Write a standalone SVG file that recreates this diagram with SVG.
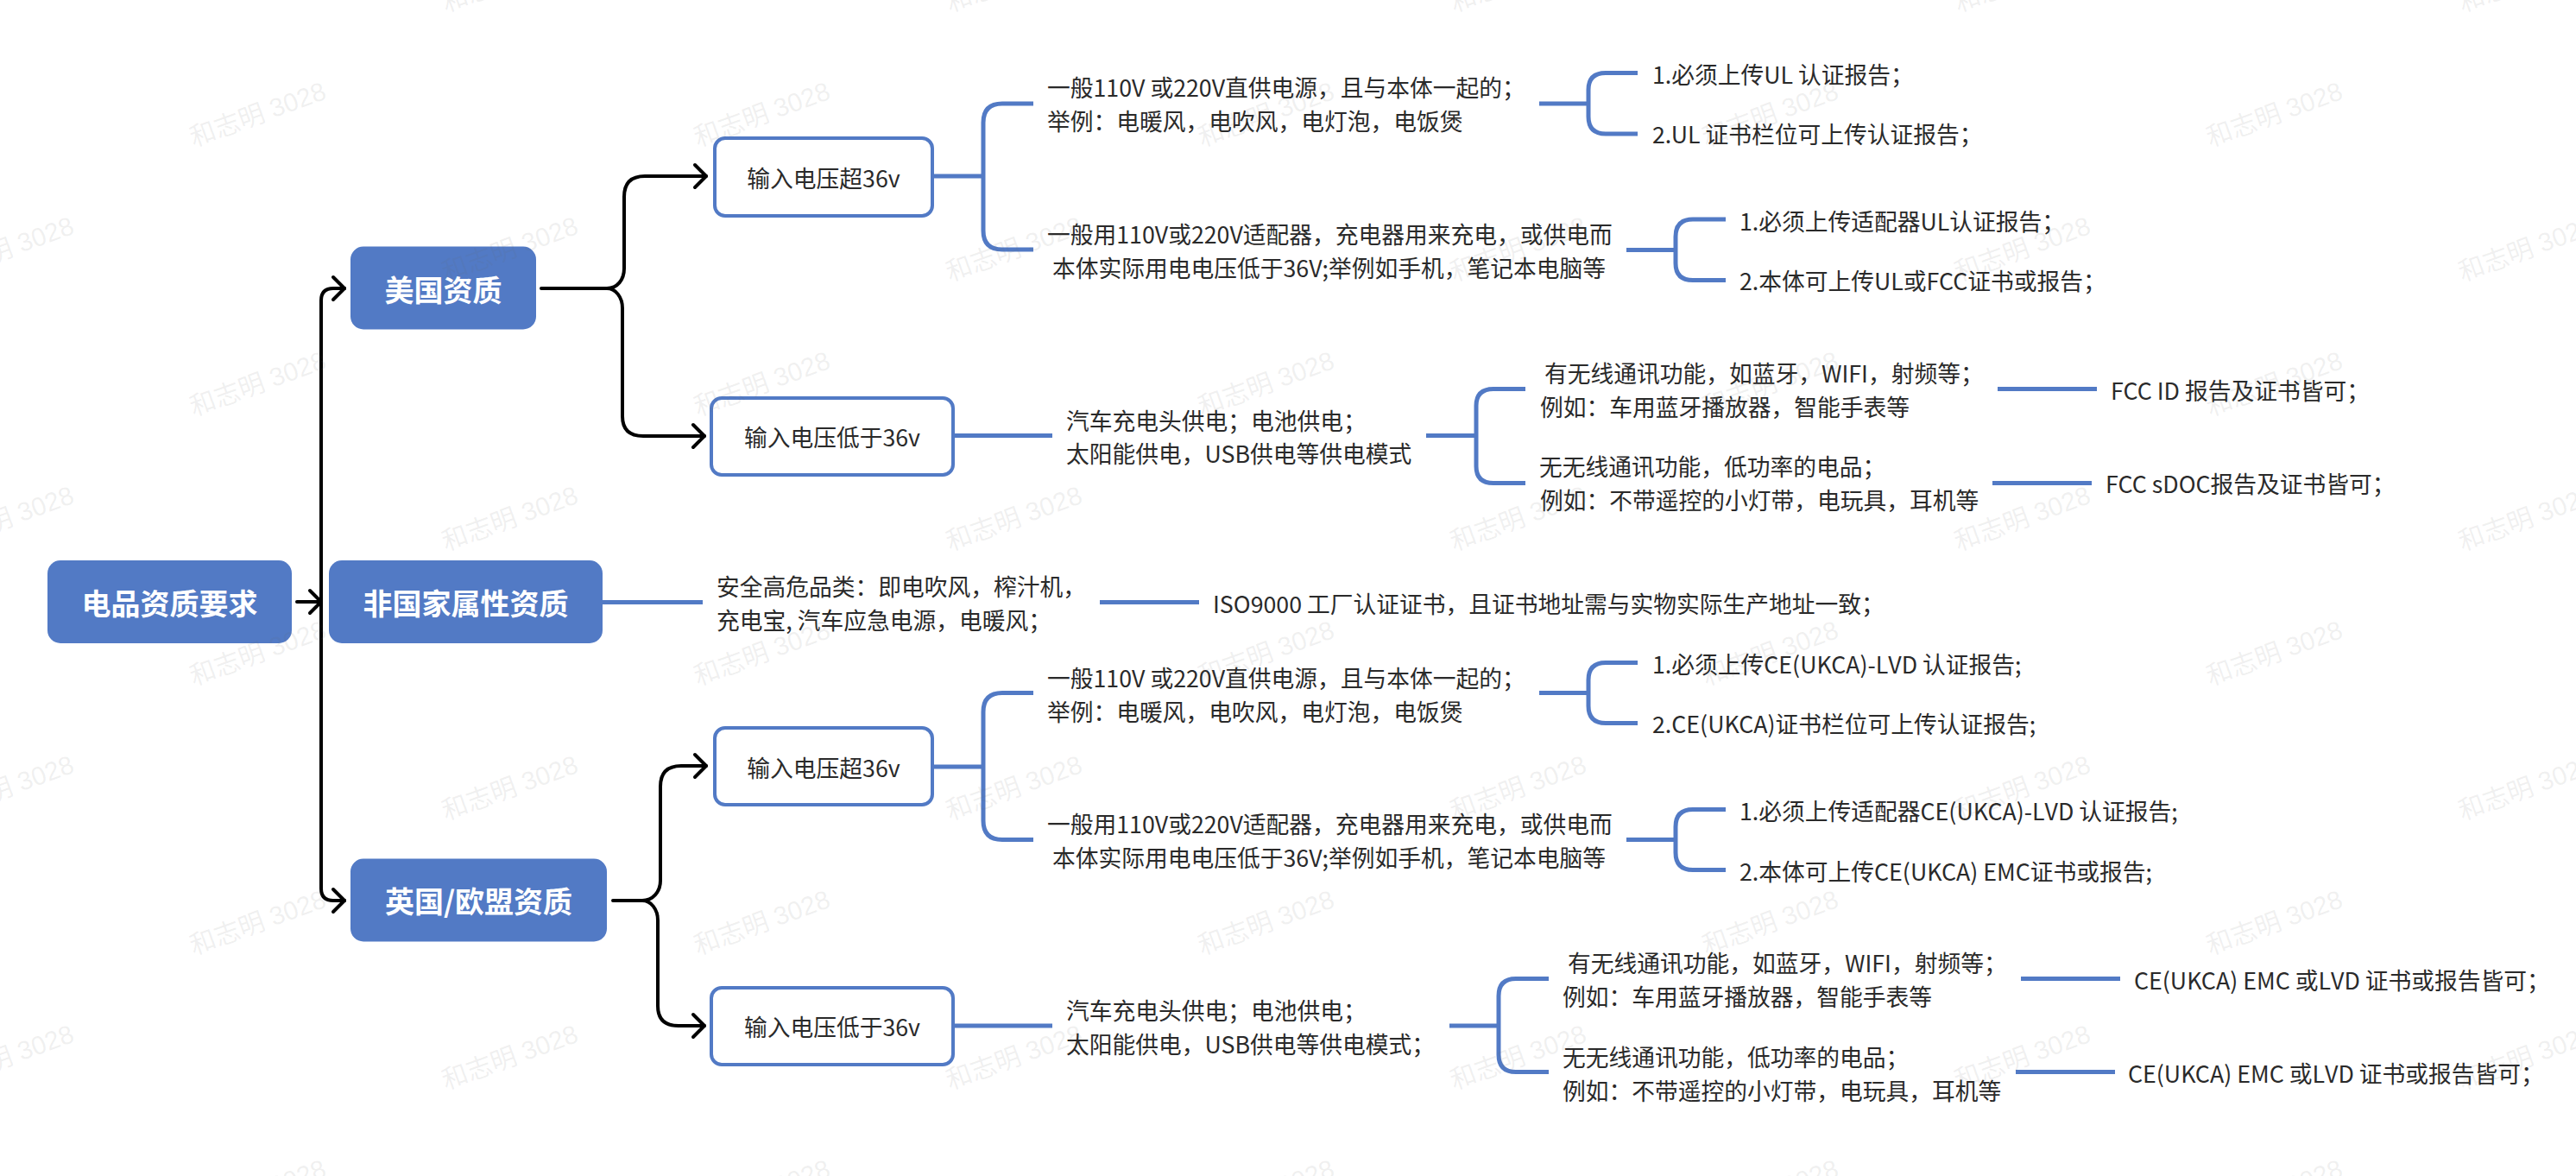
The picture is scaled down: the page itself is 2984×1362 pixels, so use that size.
<svg xmlns="http://www.w3.org/2000/svg" width="2984" height="1362" viewBox="0 0 2984 1362">
<style>
text{font-family:"Noto Sans CJK SC","Noto Sans",sans-serif}
.t{font-size:26.75px;fill:#2a2a2a}
.c{text-anchor:middle}
.h{font-size:34px;font-weight:700;fill:#fff;text-anchor:middle}
.f{fill:#527ac5}
.b{fill:#fff;stroke:#527ac5;stroke-width:4}
.k{fill:none;stroke:#000;stroke-width:4;stroke-linecap:round;stroke-linejoin:round}
.l{fill:none;stroke:#527ac5;stroke-width:5}
.w{font-family:"Liberation Sans","Noto Sans CJK SC",sans-serif;font-size:30px;fill:#666;fill-opacity:.1}
</style>
<defs>
<marker id="a" markerUnits="userSpaceOnUse" markerWidth="32" markerHeight="32" refX="16" refY="16" orient="auto" overflow="visible"><path d="M3 3L16 16L3 29" fill="none" stroke="#000" stroke-width="4" stroke-linecap="round" stroke-linejoin="round"/></marker>
</defs>
<rect width="2984" height="1362" fill="#fff"/>

<g id="connectors">
<path class="k" d="M344 697H372" marker-end="url(#a)"/>
<path class="k" d="M399 334H386Q372 334 372 348V1029Q372 1043 386 1043H399" fill="none"/>
<path class="k" d="M392 334H399" marker-end="url(#a)"/>
<path class="k" d="M392 1043H399" marker-end="url(#a)"/>
<path class="k" d="M627 334H703C715 334 723 324 723 311V228Q723 204 747 204H818" marker-end="url(#a)"/>
<path class="k" d="M703 334C713 334 721 344 721 357V482Q721 505 745 505H816" marker-end="url(#a)"/>
<path class="k" d="M710 1043H744C756 1043 765 1033 765 1020V911Q765 887 789 887H818" marker-end="url(#a)"/>
<path class="k" d="M744 1043C754 1043 762 1053 762 1066V1165Q762 1188 786 1188H816" marker-end="url(#a)"/>
<path class="l" d="M698 697.500H814"/>
<path class="l" d="M1274 697.500H1389"/>
<path class="l" d="M1080 204H1139"/>
<path class="l" d="M1197 120H1161Q1139 120 1139 142V267Q1139 289 1161 289H1197"/>
<path class="l" d="M1783 120H1840"/>
<path class="l" d="M1897 84.500H1860Q1840 84.500 1840 104V135Q1840 155 1860 155H1897"/>
<path class="l" d="M1884 289.500H1941"/>
<path class="l" d="M1999 254H1961Q1941 254 1941 274V305Q1941 324.500 1961 324.500H1999"/>
<path class="l" d="M1104 504.500H1219"/>
<path class="l" d="M1652 504.500H1710"/>
<path class="l" d="M1767 450.500H1730Q1710 450.500 1710 470V540Q1710 559.500 1730 559.500H1767"/>
<path class="l" d="M2314 450.500H2429"/>
<path class="l" d="M2308 559.500H2423"/>
<path class="l" d="M1080 888H1139"/>
<path class="l" d="M1197 802.500H1161Q1139 802.500 1139 824.500V950.500Q1139 972.500 1161 972.500H1197"/>
<path class="l" d="M1783 802.500H1840"/>
<path class="l" d="M1897 767.500H1860Q1840 767.500 1840 787.500V817.500Q1840 837.500 1860 837.500H1897"/>
<path class="l" d="M1884 972.500H1941"/>
<path class="l" d="M1999 937.500H1961Q1941 937.500 1941 957.500V987.500Q1941 1007.500 1961 1007.500H1999"/>
<path class="l" d="M1104 1188H1219"/>
<path class="l" d="M1679 1188H1736"/>
<path class="l" d="M1794 1133.500H1756Q1736 1133.500 1736 1153.500V1221.500Q1736 1241.500 1756 1241.500H1794"/>
<path class="l" d="M2341 1133.500H2456"/>
<path class="l" d="M2335 1241.500H2450"/>
</g>

<g id="root"><rect class="f" x="55" y="649" width="283" height="96" rx="15"/><text class="h" x="196.500" y="712">电品资质要求</text></g>
<g id="us"><rect class="f" x="406" y="285.500" width="215" height="96" rx="15"/><text class="h" x="513.500" y="349">美国资质</text></g>
<g id="nonnational"><rect class="f" x="381" y="649" width="317" height="96" rx="15"/><text class="h" x="539.500" y="712">非国家属性资质</text></g>
<g id="uk"><rect class="f" x="406" y="994.500" width="297" height="96" rx="15"/><text class="h" x="554.500" y="1057">英国/欧盟资质</text></g>

<g id="us-over"><rect class="b" x="828" y="160" width="252" height="90" rx="12"/><text class="t c" x="954" y="217">输入电压超36v</text></g>
<g id="us-low"><rect class="b" x="824" y="461" width="280" height="89" rx="12"/><text class="t c" x="964" y="517">输入电压低于36v</text></g>
<g id="uk-over"><rect class="b" x="828" y="843" width="252" height="89" rx="12"/><text class="t c" x="954" y="900">输入电压超36v</text></g>
<g id="uk-low"><rect class="b" x="824" y="1144" width="280" height="89" rx="12"/><text class="t c" x="964" y="1200">输入电压低于36v</text></g>

<g id="n1"><text class="t" x="1213" y="112">一般110V 或220V直供电源，且与本体一起的；</text><text class="t" x="1213" y="151">举例：电暖风，电吹风，电灯泡，电饭煲</text></g>
<g id="n2"><text class="t" x="1213" y="282">一般用110V或220V适配器，充电器用来充电，或供电而</text><text class="t" x="1219" y="321">本体实际用电电压低于36V;举例如手机，笔记本电脑等</text></g>
<g id="n3"><text class="t" x="1914" y="97">1.必须上传UL 认证报告；</text></g>
<g id="n4"><text class="t" x="1914" y="166">2.UL 证书栏位可上传认证报告；</text></g>
<g id="n5"><text class="t" x="2015" y="267">1.必须上传适配器UL认证报告；</text></g>
<g id="n6"><text class="t" x="2015" y="336">2.本体可上传UL或FCC证书或报告；</text></g>
<g id="n7"><text class="t" x="1235" y="498">汽车充电头供电；电池供电；</text><text class="t" x="1235" y="536">太阳能供电，USB供电等供电模式</text></g>
<g id="n8"><text class="t" x="1789" y="443">有无线通讯功能，如蓝牙，WIFI，射频等；</text><text class="t" x="1784" y="482">例如：车用蓝牙播放器，智能手表等</text></g>
<g id="n9"><text class="t" x="1783" y="551">无无线通讯功能，低功率的电品；</text><text class="t" x="1784" y="590">例如：不带遥控的小灯带，电玩具，耳机等</text></g>
<g id="n10"><text class="t" x="2445" y="463">FCC ID 报告及证书皆可；</text></g>
<g id="n11"><text class="t" x="2439" y="571">FCC sDOC报告及证书皆可；</text></g>
<g id="n12"><text class="t" x="830" y="690">安全高危品类：即电吹风，榨汁机，</text><text class="t" x="830" y="729">充电宝, 汽车应急电源，电暖风；</text></g>
<g id="n13"><text class="t" x="1405" y="710">ISO9000 工厂认证证书，且证书地址需与实物实际生产地址一致；</text></g>
<g id="n14"><text class="t" x="1213" y="796">一般110V 或220V直供电源，且与本体一起的；</text><text class="t" x="1213" y="835">举例：电暖风，电吹风，电灯泡，电饭煲</text></g>
<g id="n15"><text class="t" x="1213" y="965">一般用110V或220V适配器，充电器用来充电，或供电而</text><text class="t" x="1219" y="1004">本体实际用电电压低于36V;举例如手机，笔记本电脑等</text></g>
<g id="n16"><text class="t" x="1914" y="780">1.必须上传CE(UKCA)-LVD 认证报告;</text></g>
<g id="n17"><text class="t" x="1914" y="849">2.CE(UKCA)证书栏位可上传认证报告;</text></g>
<g id="n18"><text class="t" x="2015" y="950">1.必须上传适配器CE(UKCA)-LVD 认证报告;</text></g>
<g id="n19"><text class="t" x="2015" y="1020">2.本体可上传CE(UKCA) EMC证书或报告;</text></g>
<g id="n20"><text class="t" x="1235" y="1181">汽车充电头供电；电池供电；</text><text class="t" x="1235" y="1220">太阳能供电，USB供电等供电模式；</text></g>
<g id="n21"><text class="t" x="1816" y="1126">有无线通讯功能，如蓝牙，WIFI，射频等；</text><text class="t" x="1810" y="1165">例如：车用蓝牙播放器，智能手表等</text></g>
<g id="n22"><text class="t" x="1810" y="1235">无无线通讯功能，低功率的电品；</text><text class="t" x="1810" y="1274">例如：不带遥控的小灯带，电玩具，耳机等</text></g>
<g id="n23"><text class="t" x="2472" y="1146">CE(UKCA) EMC 或LVD 证书或报告皆可；</text></g>
<g id="n24"><text class="t" x="2465" y="1254">CE(UKCA) EMC 或LVD 证书或报告皆可；</text></g>

<g id="watermark">
<text class="w c" transform="translate(10 298) rotate(-20)">和志明 3028</text>
<text class="w c" transform="translate(10 610) rotate(-20)">和志明 3028</text>
<text class="w c" transform="translate(10 922) rotate(-20)">和志明 3028</text>
<text class="w c" transform="translate(10 1234) rotate(-20)">和志明 3028</text>
<text class="w c" transform="translate(302 142) rotate(-20)">和志明 3028</text>
<text class="w c" transform="translate(302 454) rotate(-20)">和志明 3028</text>
<text class="w c" transform="translate(302 766) rotate(-20)">和志明 3028</text>
<text class="w c" transform="translate(302 1078) rotate(-20)">和志明 3028</text>
<text class="w c" transform="translate(302 1390) rotate(-20)">和志明 3028</text>
<text class="w c" transform="translate(594 -14) rotate(-20)">和志明 3028</text>
<text class="w c" transform="translate(594 298) rotate(-20)">和志明 3028</text>
<text class="w c" transform="translate(594 610) rotate(-20)">和志明 3028</text>
<text class="w c" transform="translate(594 922) rotate(-20)">和志明 3028</text>
<text class="w c" transform="translate(594 1234) rotate(-20)">和志明 3028</text>
<text class="w c" transform="translate(886 142) rotate(-20)">和志明 3028</text>
<text class="w c" transform="translate(886 454) rotate(-20)">和志明 3028</text>
<text class="w c" transform="translate(886 766) rotate(-20)">和志明 3028</text>
<text class="w c" transform="translate(886 1078) rotate(-20)">和志明 3028</text>
<text class="w c" transform="translate(886 1390) rotate(-20)">和志明 3028</text>
<text class="w c" transform="translate(1178 -14) rotate(-20)">和志明 3028</text>
<text class="w c" transform="translate(1178 298) rotate(-20)">和志明 3028</text>
<text class="w c" transform="translate(1178 610) rotate(-20)">和志明 3028</text>
<text class="w c" transform="translate(1178 922) rotate(-20)">和志明 3028</text>
<text class="w c" transform="translate(1178 1234) rotate(-20)">和志明 3028</text>
<text class="w c" transform="translate(1470 142) rotate(-20)">和志明 3028</text>
<text class="w c" transform="translate(1470 454) rotate(-20)">和志明 3028</text>
<text class="w c" transform="translate(1470 766) rotate(-20)">和志明 3028</text>
<text class="w c" transform="translate(1470 1078) rotate(-20)">和志明 3028</text>
<text class="w c" transform="translate(1470 1390) rotate(-20)">和志明 3028</text>
<text class="w c" transform="translate(1762 -14) rotate(-20)">和志明 3028</text>
<text class="w c" transform="translate(1762 298) rotate(-20)">和志明 3028</text>
<text class="w c" transform="translate(1762 610) rotate(-20)">和志明 3028</text>
<text class="w c" transform="translate(1762 922) rotate(-20)">和志明 3028</text>
<text class="w c" transform="translate(1762 1234) rotate(-20)">和志明 3028</text>
<text class="w c" transform="translate(2054 142) rotate(-20)">和志明 3028</text>
<text class="w c" transform="translate(2054 454) rotate(-20)">和志明 3028</text>
<text class="w c" transform="translate(2054 766) rotate(-20)">和志明 3028</text>
<text class="w c" transform="translate(2054 1078) rotate(-20)">和志明 3028</text>
<text class="w c" transform="translate(2054 1390) rotate(-20)">和志明 3028</text>
<text class="w c" transform="translate(2346 -14) rotate(-20)">和志明 3028</text>
<text class="w c" transform="translate(2346 298) rotate(-20)">和志明 3028</text>
<text class="w c" transform="translate(2346 610) rotate(-20)">和志明 3028</text>
<text class="w c" transform="translate(2346 922) rotate(-20)">和志明 3028</text>
<text class="w c" transform="translate(2346 1234) rotate(-20)">和志明 3028</text>
<text class="w c" transform="translate(2638 142) rotate(-20)">和志明 3028</text>
<text class="w c" transform="translate(2638 454) rotate(-20)">和志明 3028</text>
<text class="w c" transform="translate(2638 766) rotate(-20)">和志明 3028</text>
<text class="w c" transform="translate(2638 1078) rotate(-20)">和志明 3028</text>
<text class="w c" transform="translate(2638 1390) rotate(-20)">和志明 3028</text>
<text class="w c" transform="translate(2930 -14) rotate(-20)">和志明 3028</text>
<text class="w c" transform="translate(2930 298) rotate(-20)">和志明 3028</text>
<text class="w c" transform="translate(2930 610) rotate(-20)">和志明 3028</text>
<text class="w c" transform="translate(2930 922) rotate(-20)">和志明 3028</text>
<text class="w c" transform="translate(2930 1234) rotate(-20)">和志明 3028</text>
</g>
</svg>
